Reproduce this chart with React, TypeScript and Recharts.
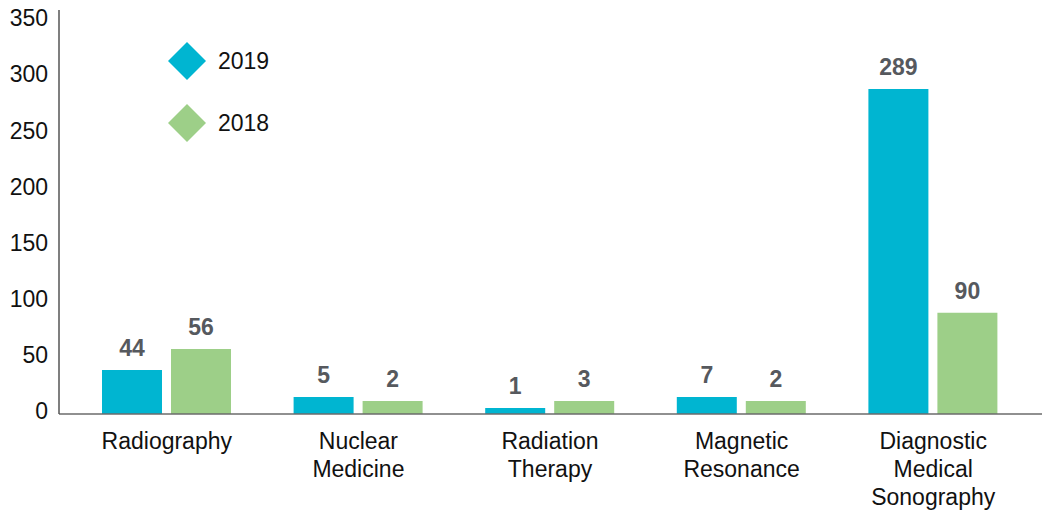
import { Bar, BarChart, LabelList, Legend, XAxis, YAxis } from "recharts";

const FONT = "Arial, 'Liberation Sans', sans-serif";

const categories = [
  "Radiography",
  "Nuclear\nMedicine",
  "Radiation\nTherapy",
  "Magnetic\nResonance",
  "Diagnostic\nMedical\nSonography",
];

// printed values above the bars
const labels2019 = [44, 5, 1, 7, 289];
const labels2018 = [56, 2, 3, 2, 90];

// bar lengths as drawn in the source (its small bars are not to scale)
const drawn2019 = [39.3, 15.2, 5.4, 15.2, 289.5];
const drawn2018 = [58, 11.6, 11.6, 11.6, 90.2];

const yTicks = [0, 50, 100, 150, 200, 250, 300, 350];

const SERIES = [
  { key: "v2019", label: "l2019", name: "2019", color: "#00b5d1" },
  { key: "v2018", label: "l2018", name: "2018", color: "#9dcf88" },
];

const data = categories.map((name, i) => ({
  name,
  v2019: drawn2019[i],
  v2018: drawn2018[i],
  l2019: labels2019[i],
  l2018: labels2018[i],
}));

function CategoryTick({ x, y, payload }: any) {
  const lines = String(payload.value).split("\n");
  return (
    <text x={x} y={y} textAnchor="middle" fill="#111" fontSize={23} fontFamily={FONT}>
      {lines.map((line, i) => (
        <tspan key={i} x={x} dy={i === 0 ? 35 : 28}>
          {line}
        </tspan>
      ))}
    </text>
  );
}

// 2019 first, like the series order
function DiamondLegend({ payload }: any) {
  const items = SERIES.map((s) => (payload || []).find((p: any) => p.value === s.name)).filter(Boolean);
  return (
    <div style={{ fontFamily: FONT, fontSize: 23, color: "#111" }}>
      {items.map((p: any) => (
        <div
          key={p.value}
          style={{ display: "flex", alignItems: "center", height: 38, marginBottom: 24 }}
        >
          <svg width={38} height={38}>
            <polygon points="19,0 38,19 19,38 0,19" fill={p.color} />
          </svg>
          <span style={{ marginLeft: 12 }}>{p.value}</span>
        </div>
      ))}
    </div>
  );
}

export default function App() {
  return (
    <div style={{ position: "fixed", left: 0, top: 0, background: "#fff" }}>
      <BarChart
        width={1042}
        height={512}
        data={data}
        margin={{ top: 10, right: 0, left: 0, bottom: 0 }}
        barSize={60}
        barGap={9}
      >
        <XAxis
          dataKey="name"
          height={98}
          interval={0}
          tickLine={false}
          tickSize={0}
          tickMargin={0}
          padding={{ left: 12, right: 13 }}
          axisLine={{ stroke: "#6b6b6b", strokeWidth: 1.5 }}
          tick={<CategoryTick />}
        />
        <YAxis
          width={59}
          domain={[0, 360]}
          ticks={yTicks}
          interval={0}
          tickLine={false}
          tickSize={0}
          tickMargin={11}
          axisLine={{ stroke: "#555", strokeWidth: 1.5 }}
          tick={{ fill: "#111", fontSize: 23, fontFamily: FONT, dy: -3 }}
        />
        <Legend
          verticalAlign="top"
          content={<DiamondLegend />}
          wrapperStyle={{ left: 168, top: 42, width: 200, height: 0, overflow: "visible" }}
        />
        {SERIES.map((s) => (
          <Bar key={s.key} dataKey={s.key} name={s.name} fill={s.color} isAnimationActive={false}>
            <LabelList
              dataKey={s.label}
              position="top"
              offset={14}
              fill="#56595e"
              fontSize={23}
              fontWeight="bold"
              fontFamily={FONT}
            />
          </Bar>
        ))}
      </BarChart>
    </div>
  );
}
